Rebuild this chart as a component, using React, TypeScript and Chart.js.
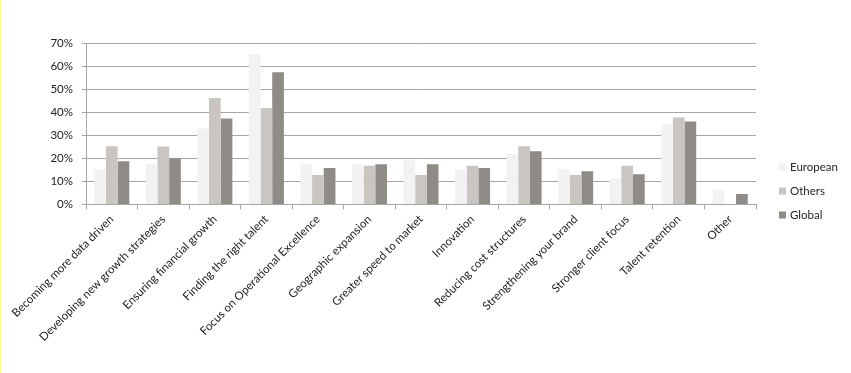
import React, { useEffect, useRef } from "react";
import { Chart, registerables } from "chart.js";

Chart.register(...registerables);

const categories = [
  "Becoming more data driven",
  "Developing new growth strategies",
  "Ensuring financial growth",
  "Finding the right talent",
  "Focus on Operational Excellence",
  "Geographic expansion",
  "Greater speed to market",
  "Innovation",
  "Reducing cost structures",
  "Strengthening your brand",
  "Stronger client focus",
  "Talent retention",
  "Other",
];

const european = [15.1, 17.5, 32.9, 65.2, 17.4, 17.4, 19.3, 15.1, 21.9, 15.2, 11.1, 34.8, 6.5];
const others = [25.2, 25.1, 46.1, 41.8, 12.8, 16.8, 12.8, 16.8, 25.2, 12.8, 16.8, 37.7, 0];
const global = [18.7, 20.0, 37.2, 57.3, 15.8, 17.4, 17.4, 15.8, 23.0, 14.4, 13.1, 35.9, 4.5];

const seriesNames = ["European", "Others", "Global"];
const seriesColors = ["#f2f2f2", "#c9c6c1", "#8f8b86"];

const FONT = "Lato, 'Liberation Sans', sans-serif";

const sideLegend = {
  id: "sideLegend",
  afterDraw(chart: any) {
    const ctx = chart.ctx;
    const area = chart.chartArea;
    const sets = chart.data.datasets;
    const x = area.right + 23;
    const yc = 191;
    const step = 24;
    ctx.save();
    ctx.font = `11.5px ${FONT}`;
    ctx.textBaseline = "middle";
    ctx.textAlign = "left";
    sets.forEach((ds: any, i: number) => {
      const y = yc + (i - (sets.length - 1) / 2) * step;
      ctx.fillStyle = ds.backgroundColor;
      ctx.fillRect(x, y - 3.5, 7, 7);
      ctx.fillStyle = "#262626";
      ctx.fillText(ds.label, x + 11, y);
    });
    ctx.restore();
  },
};

export default function App() {
  const ref = useRef<HTMLCanvasElement>(null);

  useEffect(() => {
    if (!ref.current) return;
    const data = [european, others, global];
    const chart = new Chart(ref.current, {
      type: "bar",
      data: {
        labels: categories,
        datasets: seriesNames.map((name, i) => ({
          label: name,
          data: data[i],
          backgroundColor: seriesColors[i],
          borderWidth: 0,
          categoryPercentage: 0.68,
          barPercentage: 1.0,
        })),
      },
      plugins: [sideLegend],
      options: {
        animation: false,
        responsive: false,
        maintainAspectRatio: false,
        layout: { padding: { left: 5, top: 43, right: 95, bottom: 26 } },
        plugins: {
          tooltip: { enabled: false },
          legend: { display: false },
        },
        scales: {
          x: {
            grid: {
              display: true,
              drawOnChartArea: false,
              drawTicks: true,
              tickLength: 5,
              color: "#a6a6a6",
              offset: true,
            },
            border: { display: true, color: "#a6a6a6" },
            ticks: {
              autoSkip: false,
              minRotation: 45,
              maxRotation: 45,
              padding: 3,
              color: "#222222",
              font: { family: FONT, size: 11.5 },
            },
          },
          y: {
            min: 0,
            max: 70,
            afterFit: (s: any) => {
              s.width = 79;
            },
            grid: {
              color: "#a6a6a6",
              tickLength: 4,
              drawTicks: true,
            },
            border: { display: true, color: "#a6a6a6" },
            ticks: {
              stepSize: 10,
              padding: 9,
              color: "#222222",
              font: { family: FONT, size: 11.5 },
              callback: (v: any) => `${v}%`,
            },
          },
        },
      },
    });
    return () => chart.destroy();
  }, []);

  return (
    <div
      style={{
        position: "fixed",
        left: 0,
        top: 0,
        width: 851,
        height: 373,
        background: "#ffffff",
      }}
    >
      <div
        style={{
          position: "absolute",
          left: 0,
          top: 0,
          width: 2,
          height: 373,
          background: "#ffff99",
        }}
      />
      <canvas ref={ref} width={849} height={373} style={{ position: "absolute", left: 2, top: 0 }} />
    </div>
  );
}
